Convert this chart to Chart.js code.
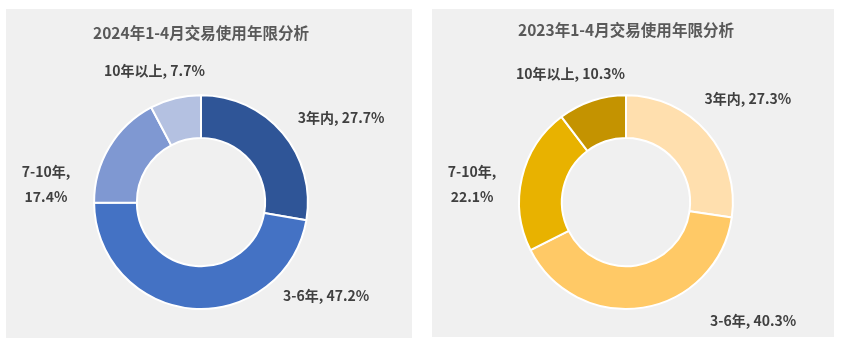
<!DOCTYPE html>
<html>
<head>
<meta charset="utf-8">
<script src="https://cdn.jsdelivr.net/npm/chart.js@4"></script>
<style>
  html, body { margin: 0; padding: 0; background: #ffffff; }
  body { width: 845px; height: 347px; position: relative; overflow: hidden; }
  .panel { position: absolute; background: #f0f0f0; }
  #p1 { left: 6px; top: 9px; width: 406px; height: 329px; }
  #p2 { left: 432px; top: 9px; width: 402px; height: 328px; }
</style>
</head>
<body>
<div class="panel" id="p1"><canvas id="chart2024"></canvas></div>
<div class="panel" id="p2"><canvas id="chart2023"></canvas></div>
<script>
// data
const categories = ["3年内", "3-6年", "7-10年", "10年以上"];
const share2024 = [27.7, 47.2, 17.4, 7.7];
const share2023 = [27.3, 40.3, 22.1, 10.3];
const colors2024 = ["#2f5597", "#4472c4", "#7f98d2", "#b4c1e1"];
const colors2023 = ["#ffdfae", "#ffc966", "#e8b200", "#c49300"];

const FONT = "'Noto Sans CJK SC', 'Noto Sans', sans-serif";

// outside labels, placed relative to the ring (units of outer radius)
const labelPlugin = {
  id: "ringLabels",
  afterDatasetsDraw(chart, args, opts) {
    const arc = chart.getDatasetMeta(0).data[0];
    if (!arc) return;
    const { x, y, outerRadius } = arc.getProps(["x", "y", "outerRadius"], true);
    const ctx = chart.ctx;
    const values = chart.data.datasets[0].data;
    ctx.save();
    ctx.font = "bold 14px " + FONT;
    ctx.fillStyle = "#404040";
    ctx.textAlign = "center";
    ctx.textBaseline = "middle";
    chart.data.labels.forEach((name, i) => {
      const [fx, fy, split] = opts.spots[i];
      const cx = x + fx * outerRadius;
      const cy = y + fy * outerRadius;
      const pct = values[i].toFixed(1) + "%";
      if (split) {
        ctx.fillText(name + ",", cx, cy - 12.5);
        ctx.fillText(pct, cx, cy + 12.5);
      } else {
        ctx.fillText(name + ", " + pct, cx, cy);
      }
    });
    ctx.restore();
  }
};

function makeDonut(id, title, values, colors, titlePad, pad, spots) {
  return new Chart(document.getElementById(id), {
    type: "doughnut",
    data: {
      labels: categories,
      datasets: [{
        data: values,
        backgroundColor: colors,
        borderColor: "#ffffff",
        borderWidth: 2,
      }],
    },
    options: {
      responsive: true,
      maintainAspectRatio: false,
      animation: false,
      cutout: "60%",
      layout: { padding: pad },
      plugins: {
        legend: { display: false },
        tooltip: { enabled: false },
        title: {
          display: true,
          text: title,
          color: "#595959",
          font: { family: FONT, size: 16, weight: "bold" },
          padding: titlePad,
        },
        ringLabels: { spots: spots },
      },
    },
    plugins: [labelPlugin],
  });
}

makeDonut("chart2024", "2024年1-4月交易使用年限分析", share2024, colors2024,
  { top: 14, bottom: 52 },
  { left: 87, right: 103, top: 0, bottom: 28 },
  [[1.31, -0.79, false], [1.17, 0.88, false], [-1.45, -0.17, true], [-0.435, -1.23, false]]);

makeDonut("chart2023", "2023年1-4月交易使用年限分析", share2023, colors2023,
  { top: 11, bottom: 55 },
  { left: 86, right: 100, top: 0, bottom: 27 },
  [[1.14, -0.97, false], [1.19, 1.11, false], [-1.44, -0.17, true], [-0.52, -1.20, false]]);
</script>
</body>
</html>
